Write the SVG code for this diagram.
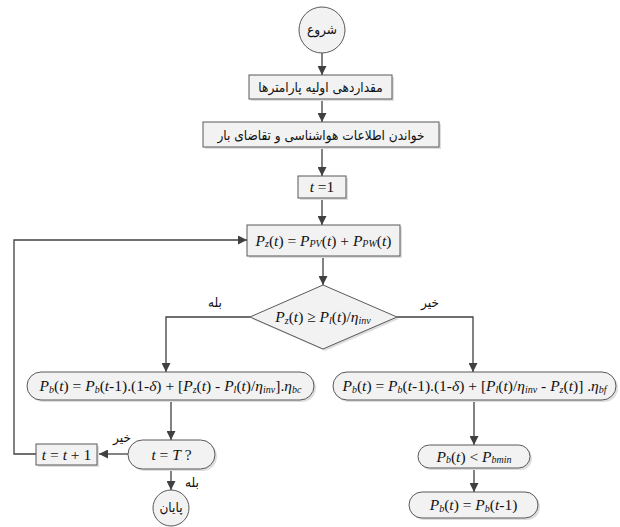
<svg xmlns="http://www.w3.org/2000/svg" width="620" height="527" viewBox="0 0 620 527">
<defs>
<marker id="ah" viewBox="0 0 10 10" refX="10" refY="5" markerWidth="9" markerHeight="9" markerUnits="userSpaceOnUse" orient="auto">
<path d="M0,0 L10,5 L0,10 z" fill="#404040"/>
</marker>
<style>
.shape{fill:#f2f2f2;stroke:#595959;stroke-width:1}
.shadow{fill:#dedede}
.conn{fill:none;stroke:#404040;stroke-width:1.3}
.fa{font-family:"DejaVu Sans",sans-serif;font-stretch:condensed;font-size:13.5px;fill:#111;text-anchor:middle}
.m{font-family:"Liberation Serif",serif;font-size:15.5px;fill:#111;text-anchor:middle}
.i{font-style:italic}
.s{font-size:10px;font-style:italic}
</style>
</defs>
<rect width="620" height="527" fill="#fff"/>
<g id="connectors">
<line class="conn" x1="322" y1="53" x2="322" y2="75" marker-end="url(#ah)"/>
<line class="conn" x1="322" y1="98" x2="322" y2="122" marker-end="url(#ah)"/>
<line class="conn" x1="322" y1="147" x2="322" y2="176" marker-end="url(#ah)"/>
<line class="conn" x1="322" y1="198" x2="322" y2="225" marker-end="url(#ah)"/>
<line class="conn" x1="323" y1="256" x2="323" y2="285" marker-end="url(#ah)"/>
<polyline class="conn" points="250,317 166,317 166,372" marker-end="url(#ah)"/>
<polyline class="conn" points="397,317 473,317 473,372" marker-end="url(#ah)"/>
<line class="conn" x1="171" y1="400" x2="171" y2="440" marker-end="url(#ah)"/>
<line class="conn" x1="128" y1="454" x2="99" y2="454" marker-end="url(#ah)"/>
<polyline class="conn" points="36,454 14,454 14,240 247,240" marker-end="url(#ah)"/>
<line class="conn" x1="171" y1="469" x2="171" y2="490" marker-end="url(#ah)"/>
<line class="conn" x1="474" y1="400" x2="474" y2="445" marker-end="url(#ah)"/>
<line class="conn" x1="474" y1="468" x2="474" y2="492" marker-end="url(#ah)"/>
<text class="fa" x="215" y="307">بله</text>
<text class="fa" x="430" y="307">خیر</text>
<text class="fa" x="122" y="442">خیر</text>
<text class="fa" x="192" y="487">بله</text>
</g>
<g id="start">
<circle cx="322" cy="30" r="23" class="shape"/>
<text class="fa" x="322" y="34">شروع</text>
</g>
<g id="init">
<rect x="251" y="77" width="143" height="24" class="shadow"/>
<rect x="249" y="75" width="143" height="24" class="shape"/>
<text class="fa" x="320.5" y="92">مقداردهی اولیه پارامترها</text>
</g>
<g id="read">
<rect x="205" y="124" width="236" height="25" class="shadow"/>
<rect x="203" y="122" width="236" height="25" class="shape"/>
<text class="fa" x="321" y="139.5">خواندن اطلاعات هواشناسی و تقاضای بار</text>
</g>
<g id="t1">
<rect x="300" y="178" width="48" height="22" class="shadow"/>
<rect x="298" y="176" width="48" height="22" class="shape"/>
<text class="m" x="322" y="192"><tspan class="i">t</tspan> =1</text>
</g>
<g id="pz">
<rect x="249" y="227" width="153" height="31" class="shadow"/>
<rect x="247" y="225" width="153" height="31" class="shape"/>
<text class="m" x="323.5" y="245.5"><tspan class="i">P</tspan><tspan class="s" dy="1.5">z</tspan><tspan dy="-1.5">(</tspan><tspan class="i">t</tspan>) = <tspan class="i">P</tspan><tspan class="s" dy="1.5">PV</tspan><tspan dy="-1.5">(</tspan><tspan class="i">t</tspan>) + <tspan class="i">P</tspan><tspan class="s" dy="1.5">PW</tspan><tspan dy="-1.5">(</tspan><tspan class="i">t</tspan>)</text>
</g>
<g id="decision">
<polygon points="252,319 325,287 399,319 325,351" class="shadow"/>
<polygon points="250,317 323,285 397,317 323,349" class="shape"/>
<text class="m" x="323" y="322"><tspan class="i">P</tspan><tspan class="s" dy="1.5">z</tspan><tspan dy="-1.5">(</tspan><tspan class="i">t</tspan>) ≥ <tspan class="i">P</tspan><tspan class="s" dy="1.5">l</tspan><tspan dy="-1.5">(</tspan><tspan class="i">t</tspan>)/<tspan class="i">η</tspan><tspan class="s" dy="1.5">inv</tspan></text>
</g>
<g id="charge">
<rect x="29" y="374" width="287" height="28" rx="14" class="shadow"/>
<rect x="27" y="372" width="287" height="28" rx="14" class="shape"/>
<text class="m" x="170.5" y="391"><tspan class="i">P</tspan><tspan class="s" dy="1.5">b</tspan><tspan dy="-1.5">(</tspan><tspan class="i">t</tspan>) = <tspan class="i">P</tspan><tspan class="s" dy="1.5">b</tspan><tspan dy="-1.5">(</tspan><tspan class="i">t</tspan>-1).(1-<tspan class="i">δ</tspan>) + [<tspan class="i">P</tspan><tspan class="s" dy="1.5">z</tspan><tspan dy="-1.5">(</tspan><tspan class="i">t</tspan>) - <tspan class="i">P</tspan><tspan class="s" dy="1.5">l</tspan><tspan dy="-1.5">(</tspan><tspan class="i">t</tspan>)/<tspan class="i">η</tspan><tspan class="s" dy="1.5">inv</tspan><tspan dy="-1.5">].</tspan><tspan class="i">η</tspan><tspan class="s" dy="1.5">bc</tspan></text>
</g>
<g id="discharge">
<rect x="335" y="374" width="283" height="28" rx="14" class="shadow"/>
<rect x="333" y="372" width="283" height="28" rx="14" class="shape"/>
<text class="m" x="474.5" y="391"><tspan class="i">P</tspan><tspan class="s" dy="1.5">b</tspan><tspan dy="-1.5">(</tspan><tspan class="i">t</tspan>) = <tspan class="i">P</tspan><tspan class="s" dy="1.5">b</tspan><tspan dy="-1.5">(</tspan><tspan class="i">t</tspan>-1).(1-<tspan class="i">δ</tspan>) + [<tspan class="i">P</tspan><tspan class="s" dy="1.5">l</tspan><tspan dy="-1.5">(</tspan><tspan class="i">t</tspan>)/<tspan class="i">η</tspan><tspan class="s" dy="1.5">inv</tspan><tspan dy="-1.5"> - </tspan><tspan class="i">P</tspan><tspan class="s" dy="1.5">z</tspan><tspan dy="-1.5">(</tspan><tspan class="i">t</tspan>)] .<tspan class="i">η</tspan><tspan class="s" dy="1.5">bf</tspan></text>
</g>
<g id="check">
<rect x="130" y="442" width="87" height="29" rx="14.5" class="shadow"/>
<rect x="128" y="440" width="87" height="29" rx="14.5" class="shape"/>
<text class="m" x="171.5" y="460"><tspan class="i">t</tspan> = <tspan class="i">T</tspan> ?</text>
</g>
<g id="inc">
<rect x="38" y="446" width="61" height="21" class="shadow"/>
<rect x="36" y="444" width="61" height="21" class="shape"/>
<text class="m" x="66.5" y="459.5"><tspan class="i">t</tspan> = <tspan class="i">t</tspan> + 1</text>
</g>
<g id="end">
<circle cx="171" cy="508" r="18" class="shape"/>
<text class="fa" x="171" y="512">پایان</text>
</g>
<g id="min">
<rect x="420" y="447" width="112" height="23" rx="11.5" class="shadow"/>
<rect x="418" y="445" width="112" height="23" rx="11.5" class="shape"/>
<text class="m" x="474" y="461.5"><tspan class="i">P</tspan><tspan class="s" dy="1.5">b</tspan><tspan dy="-1.5">(</tspan><tspan class="i">t</tspan>) &lt; <tspan class="i">P</tspan><tspan class="s" dy="1.5">bmin</tspan></text>
</g>
<g id="hold">
<rect x="411" y="494" width="129" height="26" rx="13" class="shadow"/>
<rect x="409" y="492" width="129" height="26" rx="13" class="shape"/>
<text class="m" x="473.5" y="510"><tspan class="i">P</tspan><tspan class="s" dy="1.5">b</tspan><tspan dy="-1.5">(</tspan><tspan class="i">t</tspan>) = <tspan class="i">P</tspan><tspan class="s" dy="1.5">b</tspan><tspan dy="-1.5">(</tspan><tspan class="i">t</tspan>-1)</text>
</g>
</svg>
